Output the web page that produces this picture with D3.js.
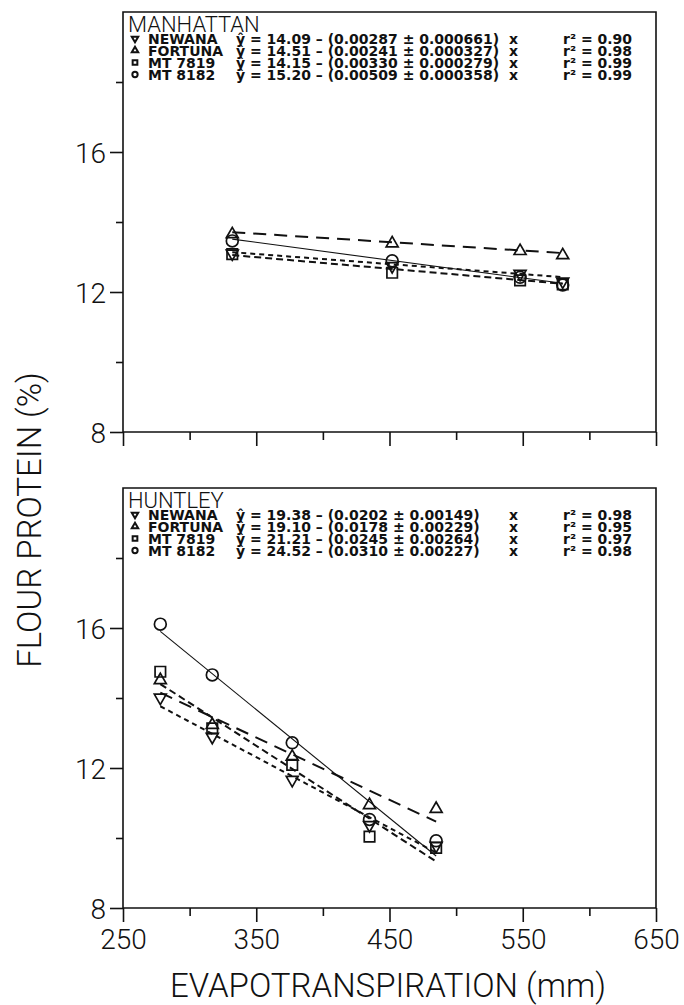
<!DOCTYPE html>
<html>
<head>
  <meta charset="utf-8">
  <script src="https://d3js.org/d3.v7.min.js"></script>
  <style>
    body { margin: 0; background: #fff; }
    .axis text { font-family: Roboto, 'Liberation Sans', Arial, sans-serif; font-weight: 300; font-size: 28px; fill: #111; }
    .axis line, .axis path { stroke: #111; stroke-width: 1.6px; }
    .legend text { font-family: 'DejaVu Sans', sans-serif; font-weight: bold; font-size: 14px; fill: #111; }
    .ptitle { font-family: Roboto, 'Liberation Sans', Arial, sans-serif; font-weight: 300; font-size: 22px; fill: #111; }
    .atitle { font-family: Roboto, 'Liberation Sans', Arial, sans-serif; font-weight: 300; font-size: 33px; fill: #111; }
  </style>
</head>
<body>
<svg width="684" height="1005"></svg>
<script>
  // cultivars, in legend order
  var cultivars = ["NEWANA", "FORTUNA", "MT 7819", "MT 8182"];

  // Manhattan
  var manET = [332, 452, 548, 580];
  var manNewana = [13.10, 12.74, 12.52, 12.30];
  var manFortuna = [13.65, 13.39, 13.17, 13.05];
  var man7819 = [13.08, 12.55, 12.33, 12.22];
  var man8182 = [13.46, 12.89, 12.42, 12.20];
  var manIntercept = ["14.09", "14.51", "14.15", "15.20"];
  var manSlope = ["0.00287", "0.00241", "0.00330", "0.00509"];
  var manSE = ["0.000661", "0.000327", "0.000279", "0.000358"];
  var manR2 = ["0.90", "0.98", "0.99", "0.99"];

  // Huntley
  var huntET = [278, 317, 377, 435, 485];
  var huntNewana = [14.01, 12.89, 11.66, 10.37, 9.78];
  var huntFortuna = [14.51, 13.23, 12.32, 10.94, 10.83];
  var hunt7819 = [14.75, 13.13, 12.09, 10.04, 9.72];
  var hunt8182 = [16.11, 14.66, 12.72, 10.53, 9.92];
  var huntIntercept = ["19.38", "19.10", "21.21", "24.52"];
  var huntSlope = ["0.0202", "0.0178", "0.0245", "0.0310"];
  var huntSE = ["0.00149", "0.00229", "0.00264", "0.00227"];
  var huntR2 = ["0.98", "0.95", "0.97", "0.98"];

  var xMajor = [250, 350, 450, 550, 650];
  var xMinor = [300, 400, 500, 600];
  var yMajor = [8, 12, 16];
  var yMinor = [10, 14, 18];

  var svg = d3.select("svg");
  var x = d3.scaleLinear().domain([250, 650]).range([123, 656]);

  // marker shapes and line dashes per cultivar
  var shapes = [
    d3.symbol().type(d3.symbolTriangle).size(62),
    d3.symbol().type(d3.symbolTriangle).size(62),
    d3.symbol().type(d3.symbolSquare).size(110),
    d3.symbol().type(d3.symbolCircle).size(110)
  ];
  var small = [
    d3.symbol().type(d3.symbolTriangle).size(18),
    d3.symbol().type(d3.symbolTriangle).size(18),
    d3.symbol().type(d3.symbolSquare).size(22),
    d3.symbol().type(d3.symbolCircle).size(22)
  ];
  var rot = [180, 0, 0, 0];
  var dashes = ["5,4", "13,8", "7,4", null];
  var widths = [2, 2, 2, 1.1];

  function panel(top, name, et, series, icpt, slope, se, r2, showX) {
    var bottom = top + 420;
    var y = d3.scaleLinear().domain([8, 20]).range([bottom, top]);
    var g = svg.append("g");

    // axes
    var gx = g.append("g").attr("class", "axis").attr("transform", "translate(0," + bottom + ")");
    gx.call(d3.axisBottom(x).tickValues(xMajor).tickSize(14).tickPadding(7)
      .tickFormat(showX ? d3.format("d") : ""));
    gx.append("g").call(d3.axisBottom(x).tickValues(xMinor).tickSize(8).tickFormat(""));
    gx.selectAll(".domain").remove();

    var gy = g.append("g").attr("class", "axis").attr("transform", "translate(123,0)");
    gy.call(d3.axisLeft(y).tickValues(yMajor).tickSize(13).tickPadding(4));
    gy.append("g").call(d3.axisLeft(y).tickValues(yMinor).tickSize(7).tickFormat(""));
    gy.selectAll(".domain").remove();
    gy.selectAll("text").attr("dy", "0.36em");

    // frame
    g.append("path")
      .attr("d", "M" + x(250) + "," + y(8) + "V" + y(20) + "H" + x(650) + "V" + y(8) + "H" + x(250))
      .attr("fill", "none").attr("stroke", "#111").attr("stroke-width", 1.6);

    // fitted lines
    var x0 = d3.min(et), x1 = d3.max(et);
    cultivars.forEach(function (c, i) {
      var a = +icpt[i], b = +slope[i];
      g.append("line")
        .attr("x1", x(x0)).attr("y1", y(a - b * x0))
        .attr("x2", x(x1)).attr("y2", y(a - b * x1))
        .attr("stroke", "#111").attr("stroke-width", widths[i])
        .attr("stroke-dasharray", dashes[i]);
    });

    // points
    series.forEach(function (vals, i) {
      g.selectAll(null).data(vals).enter().append("path")
        .attr("d", shapes[i])
        .attr("transform", function (d, k) {
          return "translate(" + x(et[k]) + "," + y(d) + ") rotate(" + rot[i] + ")";
        })
        .attr("fill", "none").attr("stroke", "#111").attr("stroke-width", 1.7);
    });

    // panel title and legend
    g.append("text").attr("class", "ptitle").attr("x", 128).attr("y", top + 20).text(name);
    var lg = g.append("g").attr("class", "legend");
    cultivars.forEach(function (c, i) {
      var cy = top + 26.5 + i * 12;
      lg.append("path").attr("d", small[i])
        .attr("transform", "translate(135," + cy + ") rotate(" + rot[i] + ")")
        .attr("fill", "none").attr("stroke", "#111").attr("stroke-width", 2);
      var t = lg.append("text").attr("y", cy + 5);
      t.append("tspan").attr("x", 148).text(c);
      t.append("tspan").attr("x", 236)
        .text("\u0177 = " + icpt[i] + " \u2013 (" + slope[i] + " \u00b1 " + se[i] + ")");
      t.append("tspan").attr("x", 509).text("x");
      t.append("tspan").attr("x", 563).text("r\u00b2 = " + r2[i]);
    });
  }

  panel(12, "MANHATTAN", manET, [manNewana, manFortuna, man7819, man8182],
    manIntercept, manSlope, manSE, manR2, false);
  panel(488, "HUNTLEY", huntET, [huntNewana, huntFortuna, hunt7819, hunt8182],
    huntIntercept, huntSlope, huntSE, huntR2, true);

  // axis titles
  svg.append("text").attr("class", "atitle")
    .attr("transform", "translate(41,520) rotate(-90)")
    .attr("text-anchor", "middle").text("FLOUR PROTEIN (%)");
  svg.append("text").attr("class", "atitle")
    .attr("x", 388).attr("y", 997)
    .attr("text-anchor", "middle").text("EVAPOTRANSPIRATION (mm)");
</script>
</body>
</html>
